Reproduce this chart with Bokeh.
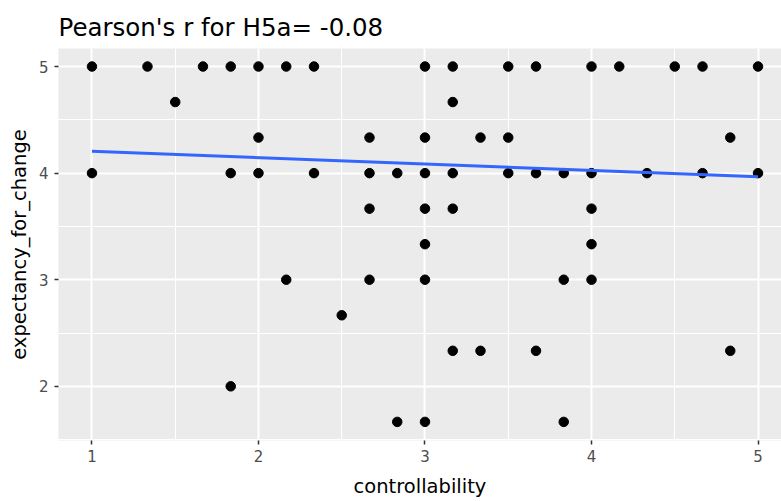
from bokeh.plotting import figure
from bokeh.models import FixedTicker, Range1d, Title
from bokeh.embed import file_html
from bokeh.resources import INLINE

# data (controllability, expectancy_for_change)
t = 1.0 / 3.0
ctrl = [
    1, 1 + t, 1 + 2 * t, 1.8333, 2, 2.1667, 2 + t, 3, 3.1667, 3.5, 3 + 2 * t, 4, 4.1667, 4.5, 4 + 2 * t, 5,
    1.5, 3.1667,
    2, 2 + 2 * t, 3, 3 + t, 3.5, 4.8333,
    1, 1.8333, 2, 2 + t, 2 + 2 * t, 2.8333, 3, 3.1667, 3.5, 3 + 2 * t, 3.8333, 4, 4 + t, 4 + 2 * t, 5,
    2 + 2 * t, 3, 3.1667, 4,
    3, 4,
    2.1667, 2 + 2 * t, 3, 3.8333, 4,
    2.5,
    3.1667, 3 + t, 3 + 2 * t, 4.8333,
    1.8333,
    2.8333, 3, 3.8333,
]
expect = (
    [5.0] * 16
    + [4 + 2 * t] * 2
    + [4 + t] * 6
    + [4.0] * 15
    + [3 + 2 * t] * 4
    + [3 + t] * 2
    + [3.0] * 5
    + [2 + 2 * t] * 1
    + [2 + t] * 4
    + [2.0] * 1
    + [1 + 2 * t] * 3
)

# fitted line end points
fit_x = [1.0, 5.0]
fit_y = [4.206, 3.966]

x_ticks = [1, 2, 3, 4, 5]
x_minor = [0.5, 1.5, 2.5, 3.5, 4.5, 5.5]
y_ticks = [2, 3, 4, 5]
y_minor = [1.5, 2.5, 3.5, 4.5]

FONT = "DejaVu Sans"

p = figure(
    width=781, height=501,
    output_backend="svg", toolbar_location=None,
    x_range=Range1d(0.799, 5.141), y_range=Range1d(1.492, 5.169),
    min_border_left=58, min_border_right=0, min_border_top=48, min_border_bottom=61,
)
p.title = None
title = Title(text="Pearson's r for H5a= -0.08", text_font=FONT,
              text_font_size="24.5px", text_font_style="normal", text_color="black",
              align="left", offset=0, standoff=13)
p.add_layout(title, "above")

p.background_fill_color = "#EBEBEB"
p.border_fill_color = "white"
p.outline_line_color = None

p.xaxis.ticker = FixedTicker(ticks=x_ticks, minor_ticks=x_minor)
p.yaxis.ticker = FixedTicker(ticks=y_ticks, minor_ticks=y_minor)

for ax in (p.xaxis, p.yaxis):
    ax.axis_line_color = None
    ax.major_tick_line_color = "#333333"
    ax.major_tick_line_width = 1.5
    ax.major_tick_out = 4
    ax.major_tick_in = 0
    ax.minor_tick_out = 0
    ax.minor_tick_in = 0
    ax.major_label_text_font = FONT
    ax.major_label_text_font_size = "15px"
    ax.major_label_text_color = "#4D4D4D"
    ax.axis_label_text_font = FONT
    ax.axis_label_text_font_size = "19.5px"
    ax.axis_label_text_font_style = "normal"
    ax.axis_label_text_color = "black"

p.xaxis.axis_label = "controllability"
p.yaxis.axis_label = "expectancy_for_change"
p.xaxis.major_label_standoff = 5
p.xaxis.axis_label_standoff = 10
p.yaxis.major_label_standoff = 6
p.yaxis.axis_label_standoff = 5

p.grid.grid_line_color = "white"
p.grid.grid_line_width = 2
p.grid.minor_grid_line_color = "white"
p.grid.minor_grid_line_width = 1

p.scatter(ctrl, expect, size=9.5, color="black", line_color="black")
p.line(fit_x, fit_y, line_color="#3366FF", line_width=3)

open("out.html", "w").write(file_html(p, INLINE))
